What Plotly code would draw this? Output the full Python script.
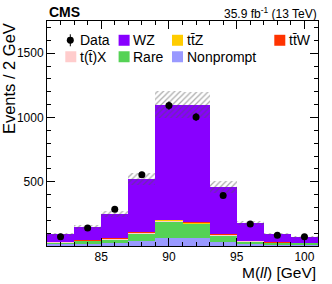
import numpy as np
import plotly.graph_objects as go

# ---- data ----
bin_centers = [82, 84, 86, 88, 90, 92, 94, 96, 98, 100]
nonprompt = [12, 15, 20, 37, 65, 60, 28, 17, 12, 12]
rare = [18, 25, 32, 62, 127, 112, 55, 20, 14, 12]
ttX = [2, 3, 4, 4, 5, 6, 3, 3, 1, 1]
ttZ = [1, 1, 2, 3, 6, 8, 3, 1, 1, 1]
ttW = [0.5, 0.5, 0.5, 1, 2, 2, 1, 0.5, 0.3, 0.3]
wz = [56, 103, 190, 413, 895, 909, 368, 134, 65, 46]
data = [72, 140, 285, 554, 1092, 1004, 393, 171, 83, 72]
unc = [12, 13, 24, 44, 105, 100, 47, 16, 10, 8]

x_ticks = [85, 90, 95, 100]
y_ticks = [500, 1000, 1500]

colors = {
    "Nonprompt": "#9999FF",
    "Rare": "#55D255",
    "t(t̄)X": "#FFCCCC",
    "tt̄Z": "#FFCC00",
    "tt̄W": "#FF3300",
    "WZ": "#8800FF",
}

FONT = "Liberation Sans, Arial, Helvetica, sans-serif"

fig = go.Figure()

stack = [("Nonprompt", nonprompt), ("Rare", rare), ("t(t̄)X", ttX),
         ("tt̄Z", ttZ), ("tt̄W", ttW), ("WZ", wz)]
base = np.zeros(len(bin_centers))
for name, vals in stack:
    vals = np.array(vals, dtype=float)
    fig.add_trace(go.Bar(x=bin_centers, y=vals, base=base.copy(), width=2,
                         marker=dict(color=colors[name], line=dict(width=0)),
                         showlegend=False, name=name))
    base = base + vals

total = base
unc = np.array(unc, dtype=float)
fig.add_trace(go.Bar(x=bin_centers, y=2 * unc, base=total - unc, width=2,
                     marker=dict(color="rgba(0,0,0,0)", line=dict(width=0),
                                 pattern=dict(shape="/", fgcolor="#555555",
                                              bgcolor="rgba(0,0,0,0)", size=4, solidity=0.3)),
                     showlegend=False))

fig.add_trace(go.Scatter(x=bin_centers, y=data, mode="markers",
                         marker=dict(color="black", size=7),
                         error_y=dict(type="data", array=np.sqrt(np.array(data)), color="black",
                                      thickness=1, width=0),
                         showlegend=False))

# plot area geometry in pixels
L, R, T, B = 46.7, 317.7, 20.7, 246.0
W, H = 332, 284
pw, ph = R - L, B - T

def px(xp):
    return (xp - L) / pw

def py(yp):
    return (B - yp) / ph

shapes = []
annotations = []

def square(x0, yc, color):
    shapes.append(dict(type="rect", xref="paper", yref="paper",
                       x0=px(x0), x1=px(x0 + 11), y0=py(yc + 5.5), y1=py(yc - 5.5),
                       fillcolor=color, line=dict(width=0)))

def label(x0, yc, text):
    annotations.append(dict(xref="paper", yref="paper", x=px(x0), y=py(yc),
                            xanchor="left", yanchor="middle", text=text, showarrow=False,
                            font=dict(family=FONT, size=14, color="black")))

# Row 1
shapes.append(dict(type="circle", xref="paper", yref="paper",
                   x0=px(66.5), x1=px(73.5), y0=py(43.5), y1=py(36.5),
                   fillcolor="black", line=dict(width=0)))
shapes.append(dict(type="line", xref="paper", yref="paper",
                   x0=px(70), x1=px(70), y0=py(34), y1=py(46),
                   line=dict(color="black", width=1)))
label(78, 40, "Data")
square(118.3, 40, colors["WZ"]); label(130.5, 40, "WZ")
square(171.7, 40, colors["tt̄Z"]); label(184.5, 40, "tt̄Z")
square(274, 40, colors["tt̄W"]); label(286.5, 40, "tt̄W")
# Row 2
square(65, 56.5, colors["t(t̄)X"]); label(77.5, 56.5, "t(t̄)X")
square(118.3, 56.5, colors["Rare"]); label(130.5, 56.5, "Rare")
square(171.7, 56.5, colors["Nonprompt"]); label(184.5, 56.5, "Nonprompt")

annotations.append(dict(xref="paper", yref="paper", x=px(47), y=py(11.5),
                        xanchor="left", yanchor="middle", text="<b>CMS</b>", showarrow=False,
                        font=dict(family=FONT, size=14, color="black")))
annotations.append(dict(xref="paper", yref="paper", x=px(318.5), y=py(12.5),
                        xanchor="right", yanchor="middle",
                        text="35.9 fb<sup>-1</sup> (13 TeV)", showarrow=False,
                        font=dict(family=FONT, size=12, color="black")))
annotations.append(dict(xref="paper", yref="paper", x=px(318), y=py(272.5),
                        xanchor="right", yanchor="middle",
                        text="M(<i>ll</i>) [GeV]", showarrow=False,
                        font=dict(family=FONT, size=15.5, color="black")))
annotations.append(dict(xref="paper", yref="paper", x=px(9.5), y=py(20.5),
                        xanchor="center", yanchor="top", textangle=-90,
                        text="Events / 2 GeV", showarrow=False,
                        font=dict(family=FONT, size=16.5, color="black")))

axis_common = dict(showline=True, linecolor="black", linewidth=1, mirror="allticks",
                   ticks="inside", tickcolor="black", showgrid=False, zeroline=False,
                   tickfont=dict(family=FONT, size=12, color="black"))

fig.update_layout(
    width=W, height=H,
    margin=dict(l=L, r=W - R, t=T, b=H - B, pad=0),
    paper_bgcolor="white", plot_bgcolor="white",
    barmode="overlay", bargap=0,
    shapes=shapes, annotations=annotations,
    xaxis=dict(range=[81, 101], tickvals=x_ticks, ticklen=8,
               minor=dict(dtick=1, ticklen=4, ticks="inside", tickcolor="black"),
               **axis_common),
    yaxis=dict(range=[0, 1750], tickvals=y_ticks, ticklen=8,
               minor=dict(dtick=100, ticklen=4, ticks="inside", tickcolor="black"),
               **axis_common),
    showlegend=False,
)

fig.write_html("out.html", config={"displayModeBar": False},
               post_script="document.body.style.margin='0';document.body.style.overflow='hidden';")
